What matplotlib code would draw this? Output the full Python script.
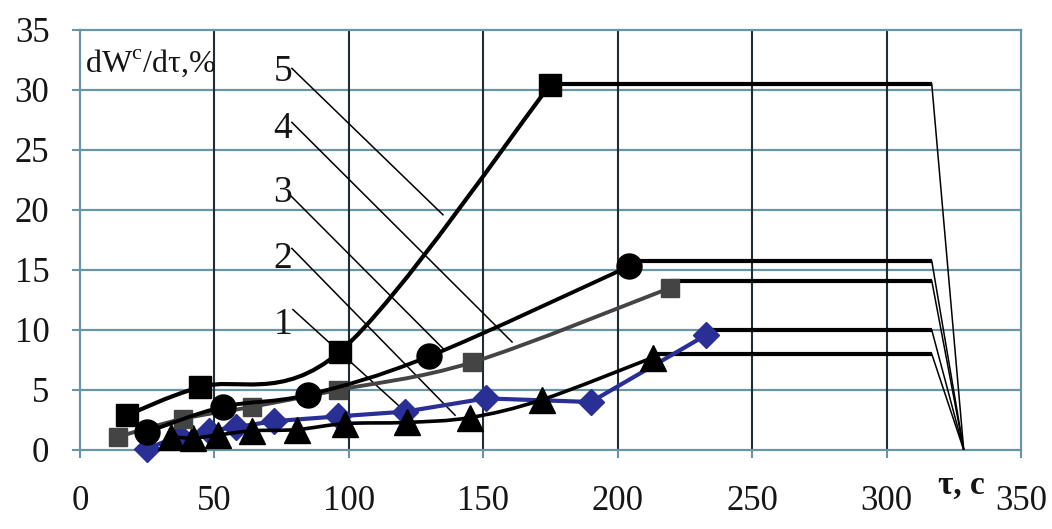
import matplotlib
matplotlib.use("Agg")
import matplotlib.pyplot as plt
from matplotlib.path import Path
from matplotlib.patches import PathPatch
import numpy as np

plt.rcParams['font.family'] = ['Liberation Serif', 'DejaVu Serif']
plt.rcParams['mathtext.fontset'] = 'custom'
plt.rcParams['mathtext.rm'] = 'Liberation Serif'

# series (tau, s ; dWc/dtau, %)
x1 = [25, 37, 48, 58, 72, 96, 121, 151, 190, 233]
y1 = [0.1, 1.2, 1.6, 1.9, 2.4, 2.8, 3.2, 4.3, 4.0, 9.6]

x2 = [33.8, 42, 51.3, 64, 80.7, 98.5, 121.6, 145, 172, 213]
y2 = [1.1, 1.0, 1.25, 1.6, 1.7, 2.2, 2.3, 2.7, 4.2, 7.7]

x3 = [14.1, 38.3, 64, 96, 145.8, 219.4]
y3 = [1.1, 2.6, 3.6, 5.0, 7.3, 13.5]

x4 = [24.9, 53.2, 84.8, 129.8, 204.2]
y4 = [1.5, 3.6, 4.6, 7.8, 15.3]

x5 = [17.5, 44.6, 96.7, 174.8]
y5 = [2.9, 5.25, 8.2, 30.4]

# plateau level of each curve, and where plateaus end / drop to zero
flat_y = [10.0, 8.0, 14.1, 15.75, 30.5]
flat_end = 316.8
drop_x = 328.7

# callout lines for the curve numbers
labels = ['1', '2', '3', '4', '5']
lab_x = [75.5, 75.5, 75.5, 75.5, 75.5]
lab_y = [10.4, 15.9, 21.4, 26.8, 31.5]
lead_x0 = [79.2, 78.8, 78.1, 78.8, 78.8]
lead_y0 = [11.7, 16.8, 21.25, 27.3, 31.8]
lead_x1 = [119, 139.5, 135.7, 160.7, 135]
lead_y1 = [3.6, 2.9, 8.3, 9.0, 19.6]

hgrid = '#6a95a5'
vgrid = '#1f2e33'


def smooth_path(xs, ys):
	# excel-like smoothed line: cubic bezier through the points
	p = np.column_stack([xs, ys]).astype(float)
	verts = [p[0]]
	codes = [Path.MOVETO]
	n = len(p)
	for i in range(n - 1):
		p0 = p[i - 1] if i > 0 else p[i]
		p1 = p[i]
		p2 = p[i + 1]
		p3 = p[i + 2] if i + 2 < n else p[i + 1]
		c1 = p1 + (p2 - p0) / 6.0
		c2 = p2 - (p3 - p1) / 6.0
		verts += [c1, c2, p2]
		codes += [Path.CURVE4] * 3
	return Path(verts, codes)


fig = plt.figure(figsize=(10.52, 5.29), dpi=100)
ax = fig.add_axes([0.07605, 0.14934, 0.8945, 0.7940])

ax.set_xlim(0, 350)
ax.set_ylim(0, 35)
ax.set_xticks(np.arange(0, 351, 50))
ax.set_yticks(np.arange(0, 36, 5))

for y in np.arange(5, 35, 5):
	ax.axhline(y, color=hgrid, lw=1.6, zorder=1)
for x in np.arange(50, 350, 50):
	ax.axvline(x, color=vgrid, lw=1.5, zorder=1)
for s in ax.spines.values():
	s.set_color(hgrid)
	s.set_linewidth(1.6)

ax.tick_params(axis='both', direction='out', length=6, width=1.5, color=hgrid,
	labelsize=25, labelcolor='#151515')
ax.tick_params(axis='x', pad=19)
ax.tick_params(axis='y', pad=16)

# plateaus and drops
last_x = [x1[-1], x2[-1], x3[-1], x4[-1], x5[-1]]
for lx, fy in zip(last_x, flat_y):
	ax.plot([lx, flat_end], [fy, fy], color='black', lw=3.0, zorder=3, solid_capstyle='butt')
	ax.plot([flat_end, drop_x], [fy, 0], color='black', lw=1.1, zorder=3)

# callout leaders
for i in range(len(labels)):
	ax.plot([lead_x0[i], lead_x1[i]], [lead_y0[i], lead_y1[i]], color='black', lw=1.1, zorder=2)
	ax.text(lab_x[i], lab_y[i], labels[i], fontsize=27, ha='center', va='center', color='#151515')

# curve 1 - blue diamonds, straight segments
ax.plot(x1, y1, color='#2a2f96', lw=3.0, marker='D', ms=13, zorder=4, clip_on=False)

# curve 2 - black triangles, smooth
ax.add_patch(PathPatch(smooth_path(x2, y2), fill=False, ec='black', lw=2.6, zorder=5))
ax.plot(x2, y2, ls='none', marker='^', ms=19, color='black', zorder=5, clip_on=False)

# curve 3 - gray squares
ax.add_patch(PathPatch(smooth_path(x3, y3), fill=False, ec='#444444', lw=2.8, zorder=6))
ax.plot(x3, y3, ls='none', marker='s', ms=12.5, color='#444444', zorder=6, clip_on=False)

# curve 4 - black circles
ax.add_patch(PathPatch(smooth_path(x4, y4), fill=False, ec='black', lw=2.8, zorder=7))
ax.plot(x4, y4, ls='none', marker='o', ms=18, color='black', zorder=7, clip_on=False)

# curve 5 - black squares
ax.add_patch(PathPatch(smooth_path(x5, y5), fill=False, ec='black', lw=3.0, zorder=8))
ax.plot(x5, y5, ls='none', marker='s', ms=16, color='black', zorder=8, clip_on=False)

ax.text(1.9, 32.25, r'dW$^{\rm c}$/dτ,%', fontsize=23, ha='left', va='center', color='#151515')
ax.text(319, -2.9, 'τ, с', fontsize=24, fontweight='bold', ha='left', va='center',
	color='#151515', clip_on=False)

fig.savefig('out.png', dpi=100)
